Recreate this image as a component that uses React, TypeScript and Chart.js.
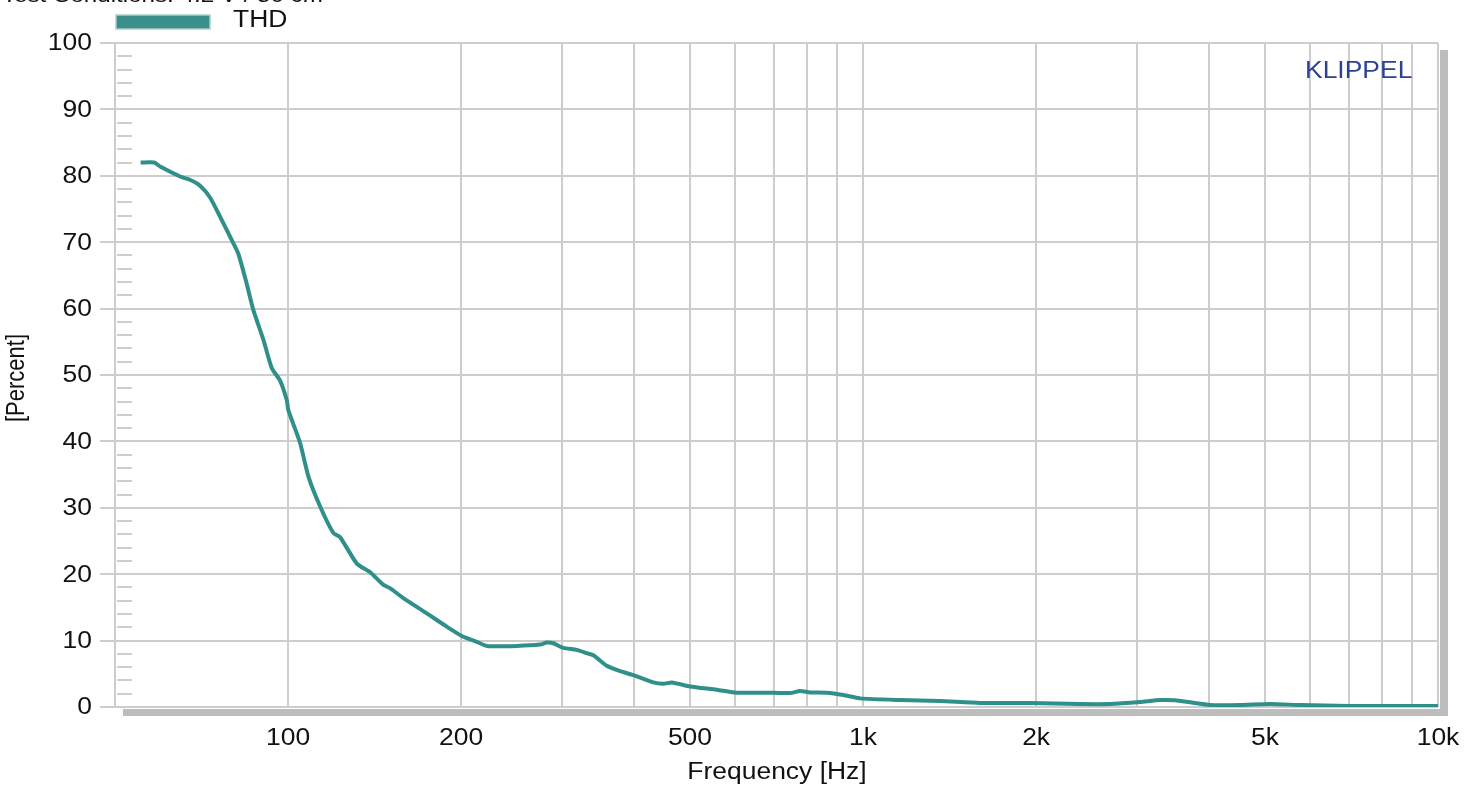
import React, { useEffect, useRef } from "react";
import { Chart, registerables } from "chart.js";

Chart.register(...registerables);

const seriesName = "THD";
const freqHz = [55.4, 58.5, 59.9, 64.9, 67.5, 70.3, 73.2, 76.2, 79.3, 81.9, 84.7, 87.0, 90.6, 93.7, 96.8, 99.5, 100.1, 104.9, 108.5, 113.7, 119.9, 123.1, 131.7, 138.9, 146.5, 150.4, 158.7, 174.3, 188.8, 200.5, 213.0, 221.6, 249.9, 274.4, 281.8, 289.3, 301.1, 317.7, 330.7, 339.6, 358.3, 378.0, 398.6, 431.8, 449.5, 464.9, 500.2, 556.7, 603.0, 698.2, 746.5, 777.1, 808.9, 864.8, 924.4, 988.1, 1160, 1361, 1598, 1952, 2385, 2689, 3032, 3285, 3488, 3704, 4013, 4525, 5104, 5754, 7031, 10000];
const thdPercent = [82.0, 82.0, 81.4, 79.9, 79.4, 78.5, 76.7, 73.8, 70.8, 68.3, 63.8, 59.8, 55.3, 51.0, 49.2, 46.2, 44.7, 39.8, 34.7, 30.2, 26.2, 25.6, 21.6, 20.3, 18.4, 17.9, 16.4, 14.1, 12.1, 10.7, 9.8, 9.2, 9.2, 9.4, 9.7, 9.6, 8.9, 8.6, 8.1, 7.8, 6.2, 5.4, 4.8, 3.7, 3.5, 3.7, 3.1, 2.6, 2.15, 2.15, 2.1, 2.4, 2.2, 2.15, 1.8, 1.3, 1.05, 0.9, 0.6, 0.6, 0.45, 0.45, 0.75, 1.05, 1.0, 0.7, 0.3, 0.3, 0.45, 0.3, 0.15, 0.15];

const xGridValues = [100, 200, 300, 400, 500, 600, 700, 800, 900, 1000, 2000, 3000, 4000, 5000, 6000, 7000, 8000, 9000, 10000];
const xTickLabels: [number, string][] = [[100, "100"], [200, "200"], [500, "500"], [1000, "1k"], [2000, "2k"], [5000, "5k"], [10000, "10k"]];
const yTickValues = [0, 10, 20, 30, 40, 50, 60, 70, 80, 90, 100];
const yMinorValues = [2, 4, 6, 8, 12, 14, 16, 18, 22, 24, 26, 28, 32, 34, 36, 38, 42, 44, 46, 48, 52, 54, 56, 58, 62, 64, 66, 68, 72, 74, 76, 78, 82, 84, 86, 88, 92, 94, 96, 98];

const titleText = "Test Conditions: 4.2 V / 50 cm";
const xTitle = "Frequency [Hz]";
const yTitle = "[Percent]";
const brandText = "KLIPPEL";

const LINE_COLOR = "#2f8f8a";
const GRID = "#cdcdcd";
const SHADOW = "#bdbdbd";
const FONT = "23px 'Liberation Sans', Arial, sans-serif";
const SX = 1.15;

function stretchedText(ctx: CanvasRenderingContext2D, text: string, x: number, y: number, align: CanvasTextAlign, baseline: CanvasTextBaseline, color: string, font: string = FONT) {
  ctx.save();
  ctx.font = font;
  ctx.fillStyle = color;
  ctx.textAlign = align;
  ctx.textBaseline = baseline;
  ctx.scale(SX, 1);
  ctx.fillText(text, x / SX, y);
  ctx.restore();
}

const decorPlugin = {
  id: "decor",
  beforeDatasetsDraw(chart: any) {
    const ctx = chart.ctx as CanvasRenderingContext2D;
    const area = chart.chartArea;
    const y = chart.scales.y;
    ctx.save();
    ctx.fillStyle = SHADOW;
    ctx.fillRect(area.right + 2, area.top + 7, 8, area.bottom - area.top + 1);
    ctx.fillRect(area.left + 8, area.bottom + 2, area.right - area.left + 2, 7);
    ctx.strokeStyle = GRID;
    ctx.lineWidth = 2;
    ctx.beginPath();
    for (const v of yMinorValues) {
      const py = Math.round(y.getPixelForValue(v));
      ctx.moveTo(area.left + 2, py);
      ctx.lineTo(area.left + 17, py);
    }
    ctx.stroke();
    ctx.restore();
  },
  afterDraw(chart: any) {
    const ctx = chart.ctx as CanvasRenderingContext2D;
    const area = chart.chartArea;
    const xs = chart.scales.x;
    const ys = chart.scales.y;
    for (const v of yTickValues) {
      stretchedText(ctx, String(v), 92, ys.getPixelForValue(v) + 1, "right", "middle", "#111");
    }
    for (const [v, s] of xTickLabels) {
      stretchedText(ctx, s, xs.getPixelForValue(v), area.bottom + 32, "center", "middle", "#111");
    }
    stretchedText(ctx, xTitle, 777, area.bottom + 66, "center", "middle", "#111");
    ctx.save();
    ctx.font = "22px 'Liberation Sans', Arial, sans-serif";
    ctx.fillStyle = "#111";
    ctx.translate(17, 378);
    ctx.scale(SX, 1);
    ctx.rotate(-Math.PI / 2);
    ctx.textAlign = "center";
    ctx.textBaseline = "middle";
    ctx.fillText(yTitle, 0, 0);
    ctx.restore();
    stretchedText(ctx, titleText, 2, 2, "left", "alphabetic", "#111", "21px 'Liberation Sans', Arial, sans-serif");
    ctx.save();
    ctx.fillStyle = "#3a8f8b";
    ctx.fillRect(116, 15, 94, 14);
    ctx.strokeStyle = "#a9cfcc";
    ctx.lineWidth = 1.5;
    ctx.strokeRect(116, 15, 94, 14);
    ctx.restore();
    stretchedText(ctx, seriesName, 233, 21, "left", "middle", "#111");
    stretchedText(ctx, brandText, 1305, 72, "left", "middle", "#2b4392");
  },
};

export default function App() {
  const ref = useRef<HTMLCanvasElement | null>(null);
  useEffect(() => {
    if (!ref.current) return;
    const chart = new Chart(ref.current, {
      type: "line",
      data: {
        datasets: [
          {
            label: seriesName,
            data: freqHz.map((f, i) => ({ x: f, y: thdPercent[i] })),
            borderColor: LINE_COLOR,
            borderWidth: 4,
            pointRadius: 0,
            tension: 0.2,
            fill: false,
          },
        ],
      },
      options: {
        animation: false,
        responsive: false,
        devicePixelRatio: 1,
        layout: { padding: { top: 43, right: 41, bottom: 0, left: 0 } },
        plugins: { legend: { display: false }, tooltip: { enabled: false }, title: { display: false } },
        scales: {
          x: {
            type: "logarithmic",
            min: 50,
            max: 10000,
            afterBuildTicks: (s: any) => {
              s.ticks = xGridValues.map((v) => ({ value: v }));
            },
            afterFit: (s: any) => {
              s.height = 78;
            },
            ticks: { display: false },
            grid: { color: GRID, lineWidth: 2, drawTicks: false },
            border: { display: false },
          },
          y: {
            type: "linear",
            min: 0,
            max: 100,
            afterBuildTicks: (s: any) => {
              s.ticks = yTickValues.map((v) => ({ value: v }));
            },
            afterFit: (s: any) => {
              s.width = 115;
            },
            ticks: { display: false },
            grid: { color: GRID, lineWidth: 2, drawTicks: true, tickLength: 15 },
            border: { display: true, color: GRID, width: 2 },
          },
        },
      },
      plugins: [decorPlugin],
    } as any);
    return () => chart.destroy();
  }, []);
  return (
    <div style={{ position: "absolute", left: 0, top: 0, width: 1479, height: 785, background: "#fff" }}>
      <canvas ref={ref} width={1479} height={785} style={{ display: "block" }} />
    </div>
  );
}
